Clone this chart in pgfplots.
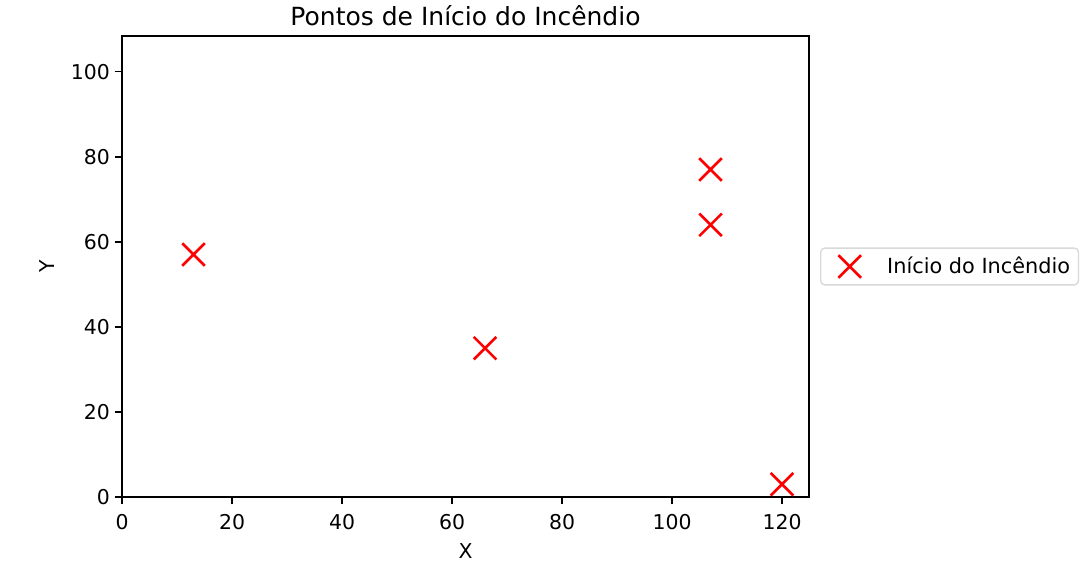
\documentclass[border=0pt]{standalone}
\usepackage{fontspec}
\setmainfont{DejaVu Sans}
\usepackage{pgfplots}
\pgfplotsset{compat=1.18}
\begin{document}
\begin{tikzpicture}
\begin{axis}[
  name=ax,
  at={(0,0)}, anchor=south west,
  width=494.64pt, height=331.92pt,
  scale only axis,
  xmin=0, xmax=124.9,
  ymin=0, ymax=108.4,
  xtick={0,20,40,60,80,100,120},
  ytick={0,20,40,60,80,100},
  tick align=outside,
  tick pos=left,
  major tick length=5.25pt,
  tick style={black, line width=1.1pt},
  axis line style={line width=1.1pt},
  /pgf/number format/assume math mode=true,
  ticklabel style={font=\fontsize{14.7}{17}\selectfont},
  xticklabel style={yshift=-4pt},
  title={Pontos de Início do Incêndio},
  title style={font=\fontsize{18}{21}\selectfont, yshift=-2pt},
  xlabel={X}, ylabel={Y},
  label style={font=\fontsize{14.7}{17}\selectfont},
  xlabel style={yshift=-2.5pt},
  ylabel style={yshift=5pt},
  legend style={at={(1.016,0.5)}, anchor=west, draw=black!15, rounded corners=3pt,
    font=\fontsize{15}{17}\selectfont, inner xsep=4pt, inner ysep=4.5pt, line width=1pt},
  legend cell align=left,
  legend image code/.code={\path (0pt,0pt) (40pt,0pt);
    \draw[#1] plot coordinates {(16pt,0pt)};},
]
\addplot[only marks, mark=x, mark size=11.5pt, red, line width=1.9pt]
  coordinates {(13,57) (66,35) (107,77) (107,64) (120,3)};
\addlegendentry{Início do Incêndio}
\end{axis}
\path (ax.south west) ++(-87.84pt,-44.64pt) coordinate (bl);
\path (ax.north east) ++(195.84pt,25.92pt) coordinate (tr);
\path (bl) rectangle (tr);
\end{tikzpicture}
\end{document}
